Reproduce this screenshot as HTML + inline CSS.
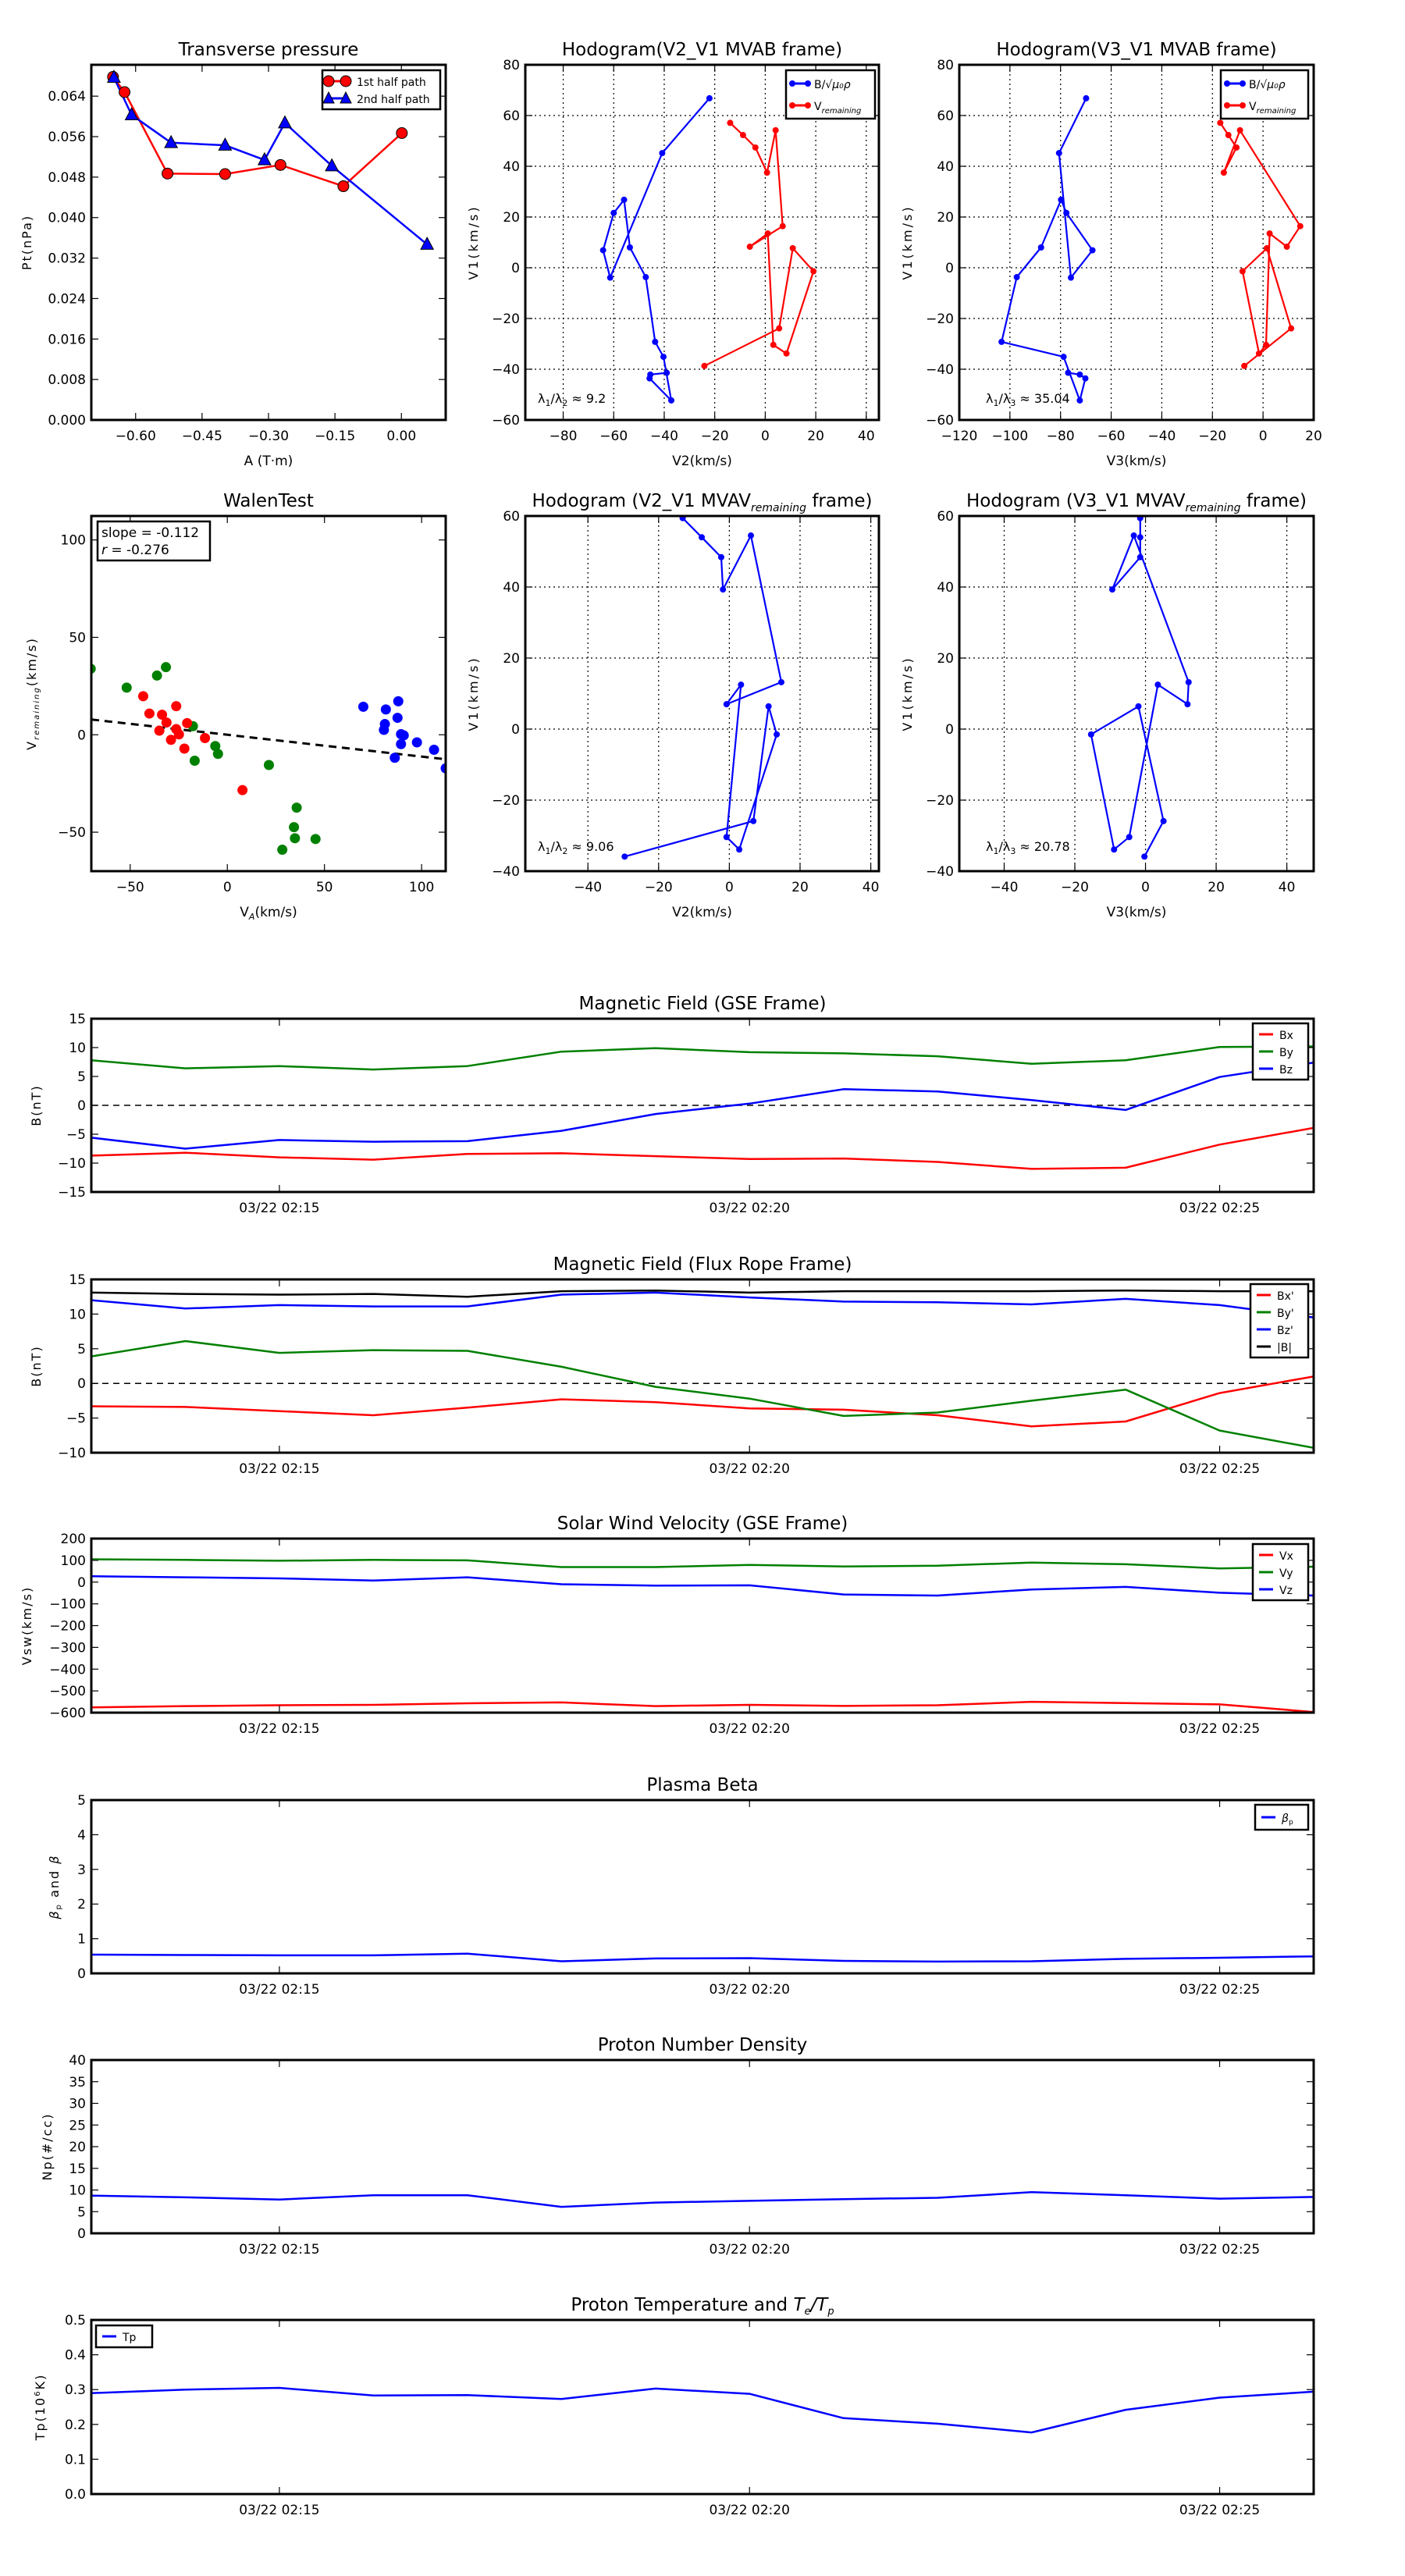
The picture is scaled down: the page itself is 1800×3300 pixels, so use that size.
<!DOCTYPE html>
<html><head><meta charset="utf-8"><title>Flux rope analysis</title>
<style>
html,body{margin:0;padding:0;background:#fff;}
svg{display:block;font-family:"DejaVu Sans","Liberation Sans",sans-serif;}
</style></head>
<body>
<svg id="fig" xmlns="http://www.w3.org/2000/svg" width="1800" height="3300" viewBox="0 0 1800 3300"></svg>
<script>
// ---------- data ----------
const tpRedA=[-0.651,-0.625,-0.528,-0.398,-0.273,-0.131,0.001];
const tpRedP=[0.0678,0.0648,0.0487,0.0486,0.0504,0.0462,0.0567];
const tpBlueA=[-0.649,-0.609,-0.520,-0.398,-0.309,-0.263,-0.157,0.058];
const tpBlueP=[0.0677,0.0603,0.0548,0.0543,0.0514,0.0587,0.0502,0.0347];
const hBV1=[66.8,45.2,-3.9,6.9,21.6,26.8,8.0,-3.7,-29.2,-35.1,-52.3,-43.6,-42.1,-41.4];
const hBV2=[-22.1,-40.8,-61.4,-64.2,-60.0,-55.9,-53.6,-47.3,-43.6,-40.3,-37.2,-45.8,-45.5,-39.0];
const hBV3=[-69.9,-80.6,-75.9,-67.4,-77.7,-79.8,-87.7,-97.3,-103.3,-78.8,-72.4,-70.2,-72.4,-77.0];
const hRV1=[57.1,52.3,47.4,37.5,54.2,16.4,8.3,13.5,-30.4,-33.8,-1.4,7.7,-23.9,-38.7];
const hRV2=[-13.9,-8.8,-3.9,0.7,4.1,6.9,-6.1,1.0,3.2,8.4,19.1,10.9,5.5,-24.1];
const hRV3=[-16.9,-13.7,-10.5,-15.5,-9.1,14.7,9.4,2.6,1.2,-1.6,-8.1,1.5,11.1,-7.4];
const wGx=[-70.3,-31.6,-36.2,-51.8,-17.7,-16.8,-6.2,-4.8,21.4,35.7,34.3,34.8,45.4,28.3];
const wGy=[33.9,34.7,30.4,24.2,4.4,-13.3,-5.8,-9.8,-15.5,-37.4,-47.4,-53.1,-53.5,-59];
const wRx=[-43.3,-26.3,-40.1,-33.6,-31.3,-20.7,-26.3,-35,-24.9,-29,-11.5,-22.1,7.8];
const wRy=[19.8,14.7,10.9,10.3,6.3,6.0,2.9,2.1,0.2,-2.6,-1.7,-7.1,-28.4];
const wBx=[70,81.6,88,87.6,81.1,80.6,89.4,90.8,89.4,97.6,106.4,86.2,112.4];
const wBy=[14.4,13,17.2,8.7,5.5,2.5,0.3,-0.3,-4.8,-3.9,-7.7,-11.8,-17.2];
const wSlope=-0.112, wIntercept=0.0;
const wFitX=[-70,112.4];
const rV1=[59.4,54.0,48.4,39.3,54.5,13.2,7.0,12.5,-30.4,-33.9,-1.5,6.4,-25.9,-35.9];
const rV2=[-13.2,-7.8,-2.3,-1.8,6.1,14.7,-0.8,3.3,-0.8,2.8,13.4,11.1,6.8,-29.6];
const rV3=[-1.5,-1.5,-1.5,-9.4,-3.3,12.2,11.9,3.5,-4.6,-8.9,-15.4,-2.0,5.1,-0.3];
const tMin=[0,1,2,3,4,5,6,7,8,9,10,11,12,13];
const timeTicks=[2,7,12];
const timeLabels=["03/22 02:15","03/22 02:20","03/22 02:25"];
const Bx=[-8.7,-8.2,-9.0,-9.4,-8.4,-8.3,-8.8,-9.3,-9.2,-9.8,-11.0,-10.8,-6.8,-3.9];
const By=[7.8,6.4,6.8,6.2,6.8,9.3,9.9,9.2,9.0,8.5,7.2,7.8,10.1,10.2];
const Bz=[-5.6,-7.5,-6.0,-6.3,-6.2,-4.4,-1.5,0.3,2.8,2.4,0.9,-0.8,4.9,7.4];
const Bxp=[-3.3,-3.4,-4.0,-4.6,-3.5,-2.3,-2.7,-3.6,-3.8,-4.6,-6.2,-5.5,-1.4,1.0];
const Byp=[3.9,6.1,4.4,4.8,4.7,2.4,-0.5,-2.2,-4.7,-4.2,-2.5,-0.9,-6.8,-9.3];
const Bzp=[12.0,10.8,11.3,11.1,11.1,12.8,13.1,12.4,11.8,11.7,11.4,12.2,11.3,9.5];
const Bmag=[13.1,12.9,12.8,12.9,12.5,13.3,13.4,13.1,13.3,13.3,13.3,13.4,13.3,13.3];
const Vx=[-576,-570,-566,-564,-557,-553,-570,-564,-569,-566,-550,-556,-562,-597];
const Vy=[105,102,98,102,100,69,69,79,72,75,90,82,63,71];
const Vz=[27,22,17,7,22,-10,-16,-15,-57,-62,-34,-22,-49,-62];
const betaP=[0.54,0.53,0.52,0.52,0.57,0.35,0.43,0.44,0.36,0.34,0.35,0.42,0.45,0.49];
const Np=[8.7,8.3,7.8,8.8,8.8,6.1,7.1,7.5,7.9,8.2,9.5,8.8,8.0,8.4];
const Tp=[0.29,0.30,0.305,0.283,0.284,0.273,0.303,0.288,0.218,0.202,0.177,0.242,0.277,0.294];

// ---------- helpers ----------
const NS="http://www.w3.org/2000/svg";
const svg=document.getElementById('fig');
function mk(tag,attrs,parent,txt){const e=document.createElementNS(NS,tag);for(const k in attrs)e.setAttribute(k,attrs[k]);if(txt!==undefined)e.textContent=txt;(parent||svg).appendChild(e);return e;}
function fmt(v,d){const s=v.toFixed(d);return s.replace('-','\u2212');}
function axes(o){
  const g=mk('g',{});
  
  
  const sx=v=>o.x0+(v-o.xlim[0])/(o.xlim[1]-o.xlim[0])*(o.x1-o.x0);
  const sy=v=>o.y1-(v-o.ylim[0])/(o.ylim[1]-o.ylim[0])*(o.y1-o.y0);
  const cp='cp'+o.name;
  const cl=mk('clipPath',{id:cp},g);mk('rect',{x:o.x0,y:o.y0,width:o.x1-o.x0,height:o.y1-o.y0},cl);
  const plot=mk('g',{'clip-path':'url(#'+cp+')'},g);
  if(o.grid){
    o.xt.forEach(v=>{const x=sx(v);const l=mk('line',{x1:x,x2:x,y1:o.y0,y2:o.y1,stroke:'#000','stroke-width':1.2,'stroke-dasharray':'2,4'},plot);});
    o.yt.forEach(v=>{const y=sy(v);const l=mk('line',{x1:o.x0,x2:o.x1,y1:y,y2:y,stroke:'#000','stroke-width':1.2,'stroke-dasharray':'2,4'},plot);});
  }
  const xl=o.xtl||o.xt.map(v=>fmt(v,o.xd||0));
  o.xt.forEach((v,i)=>{const x=sx(v);
    mk('line',{x1:x,x2:x,y1:o.y1,y2:o.y1-9,stroke:'#000','stroke-width':1.2},g);
    mk('line',{x1:x,x2:x,y1:o.y0,y2:o.y0+9,stroke:'#000','stroke-width':1.2},g);
    const t=mk('text',{x:x,y:o.y1+26,'text-anchor':'middle','font-size':17},g,xl[i]);
    });
  const yl=o.ytl||o.yt.map(v=>fmt(v,o.yd||0));
  o.yt.forEach((v,i)=>{const y=sy(v);
    mk('line',{x1:o.x0,x2:o.x0+9,y1:y,y2:y,stroke:'#000','stroke-width':1.2},g);
    mk('line',{x1:o.x1,x2:o.x1-9,y1:y,y2:y,stroke:'#000','stroke-width':1.2},g);
    const t=mk('text',{x:o.x0-7,y:y+6,'text-anchor':'end','font-size':17},g,yl[i]);
    });
  const tt=mk('text',{x:(o.x0+o.x1)/2,y:o.y0-12,'text-anchor':'middle','font-size':23},g);
  tt.innerHTML=o.title;
  
  if(o.xlabel){const t=mk('text',{x:(o.x0+o.x1)/2,y:o.y1+58,'text-anchor':'middle','font-size':17},g);t.innerHTML=o.xlabel;}
  if(o.ylabel){const yx=o.ylx,yy=(o.y0+o.y1)/2;const t=mk('text',{x:yx,y:yy,'text-anchor':'middle','font-size':o.ylfs||16,transform:`rotate(-90 ${yx} ${yy})`,'letter-spacing':o.ylls||0},g);t.innerHTML=o.ylabel;}
  mk('rect',{x:o.x0,y:o.y0,width:o.x1-o.x0,height:o.y1-o.y0,fill:'none',stroke:'#000','stroke-width':3},g);
  return {g,plot,sx,sy};
}
function line(ax,xs,ys,color,w,name){
  const p=xs.map((x,i)=>ax.sx(x).toFixed(1)+','+ax.sy(ys[i]).toFixed(1)).join(' ');
  const l=mk('polyline',{points:p,fill:'none',stroke:color,'stroke-width':w||2.5,'stroke-linejoin':'round'},ax.plot);
  
  
  return l;
}
function dots(ax,xs,ys,color,r,name,edge){
  xs.forEach((x,i)=>{const c=mk('circle',{cx:ax.sx(x),cy:ax.sy(ys[i]),r:r,fill:color,stroke:edge||'none','stroke-width':1},ax.plot);
    
    });
}
function tris(ax,xs,ys,color,s,name){
  xs.forEach((x,i)=>{const cx=ax.sx(x),cy=ax.sy(ys[i]);
    const t=mk('polygon',{points:`${cx},${cy-s} ${cx-s*0.9},${cy+s*0.7} ${cx+s*0.9},${cy+s*0.7}`,fill:color,stroke:'#000','stroke-width':1},ax.plot);
    
    });
}
function legend(x,y,w,entries,name){
  const g=mk('g',{});
  
  
  const h=entries.length*entries.rowH+ (entries.pad||10);
  const tg=entries.tg||0;
  mk('rect',{x:x,y:y,width:w,height:h,fill:'#fff',stroke:'#000','stroke-width':2.5},g);
  entries.forEach((e,i)=>{const cy=y+(entries.pad||10)/2+entries.rowH*(i+0.5);
    mk('line',{x1:x+8,x2:x+8+entries.lw,y1:cy,y2:cy,stroke:e.c,'stroke-width':3},g);
    if(e.m==='o'){mk('circle',{cx:x+8,cy:cy,r:e.r,fill:e.c,stroke:e.edge||'none'},g);mk('circle',{cx:x+8+entries.lw,cy:cy,r:e.r,fill:e.c,stroke:e.edge||'none'},g);}
    if(e.m==='^'){[x+8,x+8+entries.lw].forEach(px=>mk('polygon',{points:`${px},${cy-8} ${px-7},${cy+6} ${px+7},${cy+6}`,fill:e.c,stroke:'#000'},g));}
    const t=mk('text',{x:x+16+entries.lw+tg,y:cy+6,'font-size':entries.fs||15},g);t.innerHTML=e.t;
    });
}
function note(x,y,html,name,fs){const t=mk('text',{x:x,y:y,'font-size':fs||17},svg);t.innerHTML=html;}

// ---------- Row 1 ----------
const a1=axes({name:'transverse-pressure',x0:117,x1:571,y0:83,y1:538,xlim:[-0.70,0.10],ylim:[0,0.0702],
  xt:[-0.60,-0.45,-0.30,-0.15,0.00],xd:2,yt:[0,0.008,0.016,0.024,0.032,0.040,0.048,0.056,0.064],yd:3,
  title:'Transverse pressure',xlabel:'A (T·m)',ylabel:'Pt(nPa)',ylx:40,ylls:2});
line(a1,tpRedA,tpRedP,'#f00',2.5,'first-half-path-line');
line(a1,tpBlueA,tpBlueP,'#00f',2.5,'second-half-path-line');
dots(a1,tpRedA,tpRedP,'#f00',7,'first-half-point','#000');
tris(a1,tpBlueA,tpBlueP,'#00f',9,'second-half-point');
legend(413,90,151,Object.assign([{c:'#f00',m:'o',r:7,edge:'#000',t:'1st half path'},{c:'#00f',m:'^',t:'2nd half path'}],{rowH:22,lw:22,fs:14,pad:6,tg:6}),'pressure-legend');

const hodoLeg=[{c:'#00f',m:'o',r:4,t:'B/<tspan font-style="italic">√μ₀ρ</tspan>'},{c:'#f00',m:'o',r:4,t:'V<tspan font-size="10" dy="4" font-style="italic">remaining</tspan>'}];
const a2=axes({name:'hodogram-v2-v1-mvab',x0:673,x1:1126,y0:83,y1:538,xlim:[-95,45],ylim:[-60,80],
  xt:[-80,-60,-40,-20,0,20,40],yt:[-60,-40,-20,0,20,40,60,80],grid:true,
  title:'Hodogram(V2_V1 MVAB frame)',xlabel:'V2(km/s)',ylabel:'V1(km/s)',ylx:612,ylls:3});
line(a2,hBV2,hBV1,'#00f',2.2,'b-hodogram-line');dots(a2,hBV2,hBV1,'#00f',4,'b-hodogram-point');
line(a2,hRV2,hRV1,'#f00',2.2,'v-hodogram-line');dots(a2,hRV2,hRV1,'#f00',4,'v-hodogram-point');
legend(1007,90,114,Object.assign(hodoLeg.slice(),{rowH:28,lw:20,fs:14,pad:6}),'hodogram-legend-1');
note(689,516,'λ<tspan font-size="11" dy="4">1</tspan><tspan dy="-4">/λ</tspan><tspan font-size="11" dy="4">2</tspan><tspan dy="-4"> ≈ 9.2</tspan>','eigenvalue-ratio-1',16);

const a3=axes({name:'hodogram-v3-v1-mvab',x0:1229,x1:1683,y0:83,y1:538,xlim:[-120,20],ylim:[-60,80],
  xt:[-120,-100,-80,-60,-40,-20,0,20],yt:[-60,-40,-20,0,20,40,60,80],grid:true,
  title:'Hodogram(V3_V1 MVAB frame)',xlabel:'V3(km/s)',ylabel:'V1(km/s)',ylx:1168,ylls:3});
line(a3,hBV3,hBV1,'#00f',2.2,'b-hodogram-line');dots(a3,hBV3,hBV1,'#00f',4,'b-hodogram-point');
line(a3,hRV3,hRV1,'#f00',2.2,'v-hodogram-line');dots(a3,hRV3,hRV1,'#f00',4,'v-hodogram-point');
legend(1564,90,112,Object.assign(hodoLeg.slice(),{rowH:28,lw:20,fs:14,pad:6}),'hodogram-legend-2');
note(1263,516,'λ<tspan font-size="11" dy="4">1</tspan><tspan dy="-4">/λ</tspan><tspan font-size="11" dy="4">3</tspan><tspan dy="-4"> ≈ 35.04</tspan>','eigenvalue-ratio-2',16);

// ---------- Row 2 ----------
const b1=axes({name:'walen-test',x0:117,x1:571,y0:661,y1:1116,xlim:[-70,112.4],ylim:[-70,112.3],
  xt:[-50,0,50,100],yt:[-50,0,50,100],
  title:'WalenTest',xlabel:'V<tspan font-size="11" dy="4" font-style="italic">A</tspan><tspan dy="-4">(km/s)</tspan>',
  ylabel:'V<tspan font-size="10" dy="4" font-style="italic">remaining</tspan><tspan dy="-4">(km/s)</tspan>',ylx:46,ylls:2});
line(b1,wFitX,wFitX.map(x=>wSlope*x+wIntercept),'#000',3,'fit-line').setAttribute('stroke-dasharray','10,7');
dots(b1,wGx,wGy,'#008000',6.5,'walen-point-green');
dots(b1,wRx,wRy,'#f00',6.5,'walen-point-red');
dots(b1,wBx,wBy,'#00f',6.5,'walen-point-blue');
(function(){const g=mk('g',{});
 mk('rect',{x:125,y:668,width:144,height:50,fill:'#fff',stroke:'#000','stroke-width':2.5},g);
 const t1=mk('text',{x:130,y:688,'font-size':17},g,'slope = -0.112');
 const t2=mk('text',{x:130,y:710,'font-size':17},g);t2.innerHTML='<tspan font-style="italic">r</tspan> = -0.276';})();

const b2=axes({name:'hodogram-v2-v1-mvav',x0:673,x1:1126,y0:661,y1:1116,xlim:[-57.7,42.3],ylim:[-40,60],
  xt:[-40,-20,0,20,40],yt:[-40,-20,0,20,40,60],grid:true,
  title:'Hodogram (V2_V1 MVAV<tspan font-size="14" dy="6" font-style="italic">remaining</tspan><tspan dy="-6"> frame)</tspan>',xlabel:'V2(km/s)',ylabel:'V1(km/s)',ylx:612,ylls:3});
line(b2,rV2,rV1,'#00f',2.2,'v-hodogram-line');dots(b2,rV2,rV1,'#00f',4,'v-hodogram-point');
note(689,1090,'λ<tspan font-size="11" dy="4">1</tspan><tspan dy="-4">/λ</tspan><tspan font-size="11" dy="4">2</tspan><tspan dy="-4"> ≈ 9.06</tspan>','eigenvalue-ratio-3',16);

const b3=axes({name:'hodogram-v3-v1-mvav',x0:1229,x1:1683,y0:661,y1:1116,xlim:[-52.7,47.6],ylim:[-40,60],
  xt:[-40,-20,0,20,40],yt:[-40,-20,0,20,40,60],grid:true,
  title:'Hodogram (V3_V1 MVAV<tspan font-size="14" dy="6" font-style="italic">remaining</tspan><tspan dy="-6"> frame)</tspan>',xlabel:'V3(km/s)',ylabel:'V1(km/s)',ylx:1168,ylls:3});
line(b3,rV3,rV1,'#00f',2.2,'v-hodogram-line');dots(b3,rV3,rV1,'#00f',4,'v-hodogram-point');
note(1263,1090,'λ<tspan font-size="11" dy="4">1</tspan><tspan dy="-4">/λ</tspan><tspan font-size="11" dy="4">3</tspan><tspan dy="-4"> ≈ 20.78</tspan>','eigenvalue-ratio-4',16);

// ---------- Time series ----------
function ts(name,y0,y1,ylim,yt,title,ylabel,ylx,yd){
  return axes({name:name,x0:117,x1:1683,y0:y0,y1:y1,xlim:[0,13],ylim:ylim,xt:timeTicks,xtl:timeLabels,yt:yt,yd:yd||0,
    title:title,ylabel:ylabel,ylx:ylx,ylls:2});
}
function zero(ax,name){const l=line(ax,[0,13],[0,0],'#000',1.5,name);l.setAttribute('stroke-dasharray','8,6');}
const c1=ts('magnetic-field-gse',1305,1527,[-15,15],[-15,-10,-5,0,5,10,15],'Magnetic Field (GSE Frame)','B(nT)',52);
zero(c1,'zero-line');
line(c1,tMin,Bx,'#f00',2.5,'bx-line');line(c1,tMin,By,'#008000',2.5,'by-line');line(c1,tMin,Bz,'#00f',2.5,'bz-line');
legend(1605,1311,71,Object.assign([{c:'#f00',t:'Bx'},{c:'#008000',t:'By'},{c:'#00f',t:'Bz'}],{rowH:22,lw:18,fs:14,pad:6}),'gse-b-legend');

const c2=ts('magnetic-field-flux-rope',1639,1861,[-10,15],[-10,-5,0,5,10,15],'Magnetic Field (Flux Rope Frame)','B(nT)',52);
zero(c2,'zero-line');
line(c2,tMin,Bxp,'#f00',2.5,'bx-prime-line');line(c2,tMin,Byp,'#008000',2.5,'by-prime-line');line(c2,tMin,Bzp,'#00f',2.5,'bz-prime-line');line(c2,tMin,Bmag,'#000',2.5,'b-magnitude-line');
legend(1602,1645,74,Object.assign([{c:'#f00',t:"Bx'"},{c:'#008000',t:"By'"},{c:'#00f',t:"Bz'"},{c:'#000',t:'|B|'}],{rowH:22,lw:18,fs:14,pad:6}),'flux-rope-legend');

const c3=ts('solar-wind-velocity',1971,2194,[-600,200],[-600,-500,-400,-300,-200,-100,0,100,200],'Solar Wind Velocity (GSE Frame)','Vsw(km/s)',40);
line(c3,tMin,Vx,'#f00',2.5,'vx-line');line(c3,tMin,Vy,'#008000',2.5,'vy-line');line(c3,tMin,Vz,'#00f',2.5,'vz-line');
legend(1605,1978,71,Object.assign([{c:'#f00',t:'Vx'},{c:'#008000',t:'Vy'},{c:'#00f',t:'Vz'}],{rowH:22,lw:18,fs:14,pad:6}),'velocity-legend');

const c4=ts('plasma-beta',2306,2528,[0,5],[0,1,2,3,4,5],'Plasma Beta','<tspan font-style="italic">β</tspan><tspan font-size="10" dy="3">p</tspan><tspan dy="-3"> and </tspan><tspan font-style="italic">β</tspan>',75);
line(c4,tMin,betaP,'#00f',2.5,'beta-p-line');
legend(1608,2312,68,Object.assign([{c:'#00f',t:'<tspan font-style="italic">β</tspan><tspan font-size="9" dy="3">p</tspan>'}],{rowH:26,lw:18,fs:14,pad:6}),'beta-legend');

const c5=ts('proton-number-density',2639,2861,[0,40],[0,5,10,15,20,25,30,35,40],'Proton Number Density','Np(#/cc)',66);
line(c5,tMin,Np,'#00f',2.5,'np-line');

const c6=ts('proton-temperature',2972,3195,[0,0.5],[0,0.1,0.2,0.3,0.4,0.5],'Proton Temperature and <tspan font-style="italic">T</tspan><tspan font-size="13" dy="5" font-style="italic">e</tspan><tspan dy="-5" font-style="italic">/T</tspan><tspan font-size="13" dy="5" font-style="italic">p</tspan>','Tp(10<tspan font-size="10" dy="-6">6</tspan><tspan dy="6">K)</tspan>',57,1);
line(c6,tMin,Tp,'#00f',2.5,'tp-line');
legend(123,2979,72,Object.assign([{c:'#00f',t:'Tp'}],{rowH:22,lw:18,fs:14,pad:6}),'tp-legend');
</script>
</body></html>
